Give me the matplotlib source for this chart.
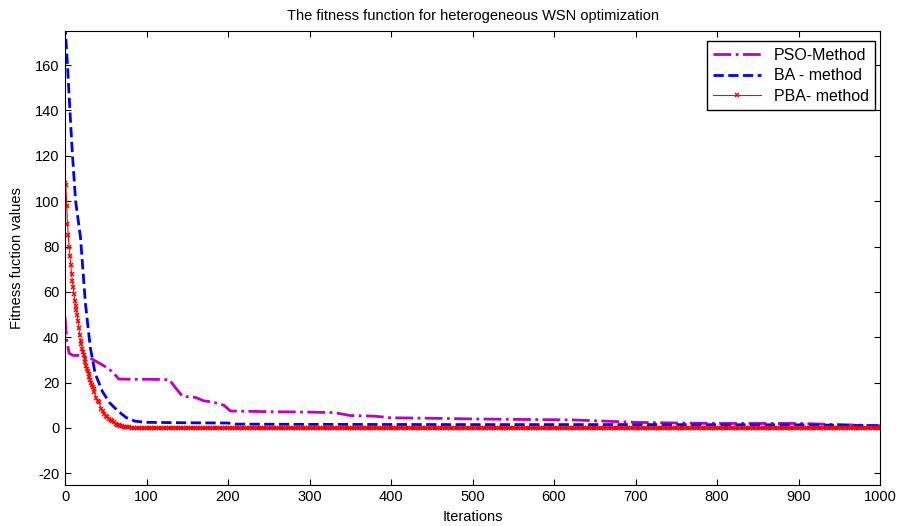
import numpy as np
import matplotlib
matplotlib.use('Agg')
import matplotlib.pyplot as plt

plt.rcParams['font.family'] = ['Liberation Sans', 'DejaVu Sans']
plt.rcParams['axes.unicode_minus'] = False

# PSO curve (stepwise decay)
pso_x = [0, 2, 5, 10, 20, 30, 35, 45, 54, 60, 66, 80, 100, 128, 135, 144, 160, 170, 182, 195, 203,
         250, 300, 330, 350, 380, 400, 450, 500, 550, 620, 650, 700, 750, 800, 900, 950, 1000]
pso_y = [49, 39, 33, 32, 32, 31, 30, 28, 26, 24, 21.6, 21.5, 21.5, 21.3, 18, 14, 13.5, 12, 11.4, 10, 7.5,
         7.2, 7, 6.8, 5.5, 5.2, 4.5, 4.3, 4, 3.8, 3.6, 3.2, 2.5, 2.2, 2, 2, 1.5, 1]

# BA curve
ba_x = [0, 3, 6, 9, 13, 19, 25, 31, 37, 46, 55, 65, 75, 86, 100, 150, 200, 210, 300, 500, 700, 900, 950, 1000]
ba_y = [178, 160, 140, 121, 100, 84, 55, 35.5, 24, 16, 11, 7.5, 4.6, 3, 2.5, 2.3, 2.2, 1.7, 1.6, 1.5, 1.5, 1.4, 1.2, 1]

# PBA curve (early part)
pba_x = [0, 1, 2, 3, 4, 5, 6, 7, 8, 9, 10, 11, 12, 13, 14, 15, 16, 17, 18, 19, 20, 21, 22, 23, 24,
         25, 26, 27, 28, 29, 30, 31, 32, 33, 34, 35, 36, 38, 40, 42, 44, 46, 48, 50, 52, 54, 56,
         58, 60, 62, 64, 66, 68, 70, 72, 74, 76, 79, 82, 85]
pba_y = [108, 107, 98, 90, 85, 80, 76, 72, 68, 65, 62, 59, 56, 54, 52, 50, 47, 44, 41, 38.5, 37,
         35, 33.5, 32, 30.5, 29, 27.5, 26, 25, 24, 22.5, 21, 20, 19, 18, 17, 16, 13.4, 12, 11.5,
         8.5, 7.5, 6, 5.5, 5, 4, 3.5, 3, 2.5, 1.7, 1.5, 1.2, 1, 0.8, 0.6, 0.5, 0.4, 0.3, 0.2, 0.1]
# PBA stays at zero afterwards
pba_tail_x = list(range(88, 1001, 3))
pba_tail_y = [0.0] * len(pba_tail_x)

fig = plt.figure(figsize=(8.98, 5.26), dpi=100)
ax = fig.add_axes([0.0724, 0.0785, 0.9076, 0.8625])

ax.plot(pso_x, pso_y, color='#c000c0', linestyle='-.', linewidth=2, label='PSO-Method')
ax.plot(ba_x, ba_y, color='blue', linestyle='--', linewidth=2, label='BA - method')
ax.plot(pba_x + pba_tail_x, pba_y + pba_tail_y, color='red', linestyle='-', linewidth=0.8,
        marker='x', markersize=3.5, markeredgewidth=1.1, label='PBA- method')

ax.set_xlim(0, 1000)
ax.set_ylim(-25, 175)
ax.set_xticks(np.arange(0, 1001, 100))
ax.set_yticks(np.arange(-20, 161, 20))
ax.tick_params(direction='in', top=True, right=True, labelsize=10.5, length=4, pad=4)
ax.set_xlabel('Iterations', fontsize=10.5, labelpad=4)
ax.set_ylabel('Fitness fuction values', fontsize=10.5, labelpad=8)
ax.set_title('The fitness function for heterogeneous WSN optimization', fontsize=10.5, pad=8)

leg = ax.legend(loc='upper right', bbox_to_anchor=(0.994, 0.977), borderaxespad=0,
                fontsize=11.5, fancybox=False, edgecolor='black', framealpha=1,
                handlelength=3.0, numpoints=1, labelspacing=0.35)
leg.get_frame().set_linewidth(1)

fig.savefig('out.png', dpi=100)
